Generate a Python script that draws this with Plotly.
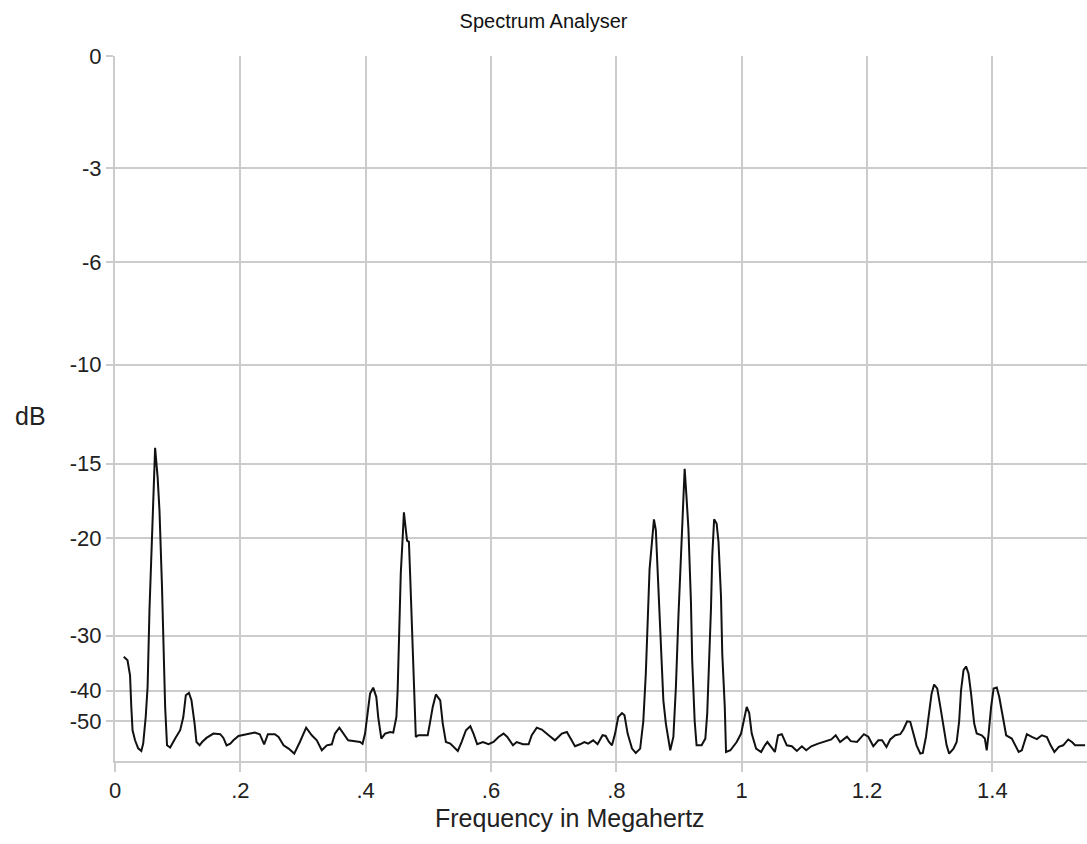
import numpy as np
import plotly.graph_objects as go

# Frequency (MHz) and level (dB)
freq_mhz = [
    0.014, 0.020, 0.021, 0.024, 0.026, 0.028, 0.032, 0.037, 0.042, 0.045,
    0.049, 0.052, 0.055, 0.059, 0.062, 0.064, 0.068, 0.071, 0.075, 0.078,
    0.080, 0.083, 0.088, 0.096, 0.104, 0.109, 0.113, 0.118, 0.122, 0.127,
    0.130, 0.135, 0.139, 0.146, 0.157, 0.168, 0.173, 0.178, 0.184, 0.189,
    0.197, 0.210, 0.223, 0.231, 0.238, 0.244, 0.255, 0.261, 0.269, 0.277,
    0.286, 0.295, 0.305, 0.314, 0.322, 0.330, 0.338, 0.346, 0.351, 0.358,
    0.364, 0.372, 0.383, 0.391, 0.395, 0.399, 0.403, 0.407, 0.412, 0.417,
    0.420, 0.425, 0.431, 0.439, 0.444, 0.449, 0.451, 0.454, 0.456, 0.459,
    0.461, 0.466, 0.469, 0.471, 0.474, 0.477, 0.480, 0.484, 0.499, 0.503,
    0.507, 0.512, 0.519, 0.523, 0.528, 0.535, 0.540, 0.547, 0.553, 0.560,
    0.567, 0.572, 0.578, 0.587, 0.596, 0.604, 0.612, 0.620, 0.626, 0.635,
    0.641, 0.651, 0.660, 0.665, 0.673, 0.681, 0.692, 0.702, 0.713, 0.721,
    0.727, 0.734, 0.742, 0.749, 0.755, 0.763, 0.770, 0.778, 0.783, 0.788,
    0.793, 0.798, 0.803, 0.809, 0.813, 0.818, 0.825, 0.831, 0.838, 0.843,
    0.847, 0.850, 0.853, 0.857, 0.860, 0.863, 0.865, 0.868, 0.871, 0.875,
    0.879, 0.886, 0.891, 0.895, 0.899, 0.903, 0.906, 0.909, 0.912, 0.915,
    0.919, 0.921, 0.925, 0.928, 0.936, 0.942, 0.945, 0.948, 0.951, 0.953,
    0.956, 0.960, 0.963, 0.967, 0.969, 0.973, 0.975, 0.982, 0.992, 0.999,
    1.003, 1.008, 1.012, 1.016, 1.023, 1.031, 1.037, 1.041, 1.047, 1.053,
    1.058, 1.064, 1.072, 1.080, 1.088, 1.096, 1.103, 1.111, 1.122, 1.133,
    1.143, 1.150, 1.157, 1.168, 1.174, 1.184, 1.195, 1.202, 1.210, 1.218,
    1.224, 1.231, 1.237, 1.245, 1.253, 1.258, 1.264, 1.269, 1.274, 1.279,
    1.285, 1.289, 1.294, 1.300, 1.303, 1.307, 1.312, 1.317, 1.322, 1.327,
    1.331, 1.338, 1.343, 1.347, 1.350, 1.354, 1.358, 1.362, 1.366, 1.371,
    1.375, 1.383, 1.388, 1.391, 1.394, 1.398, 1.402, 1.407, 1.411, 1.417,
    1.422, 1.431, 1.436, 1.442, 1.447, 1.455, 1.463, 1.471, 1.479, 1.487,
    1.493, 1.499, 1.506, 1.513, 1.521, 1.527, 1.532, 1.548,
]

level_db = [
    -33.2, -33.8, -34.5, -36.6, -44.6, -54.4, -61.3, -69.8, -73.9, -64.3,
    -48.2, -39.2, -26.8, -20.4, -16.6, -14.1, -15.8, -18.0, -24.3, -32.7,
    -44.6, -66.1, -68.8, -59.9, -54.4, -48.2, -41.2, -40.6, -42.6, -51.0,
    -62.8, -66.1, -62.8, -59.4, -56.4, -56.8, -59.4, -66.1, -64.3, -61.3,
    -58.0, -56.8, -55.8, -56.8, -65.0, -56.8, -56.8, -58.7, -66.1, -70.2,
    -79.2, -62.8, -53.0, -57.5, -61.3, -72.7, -66.1, -65.0, -56.4, -53.0,
    -56.4, -61.3, -62.1, -62.8, -64.5, -56.4, -46.9, -40.8, -39.3, -41.7,
    -48.2, -59.9, -56.4, -55.4, -55.8, -48.2, -40.0, -29.3, -23.0, -20.0,
    -18.1, -20.2, -20.3, -23.2, -29.7, -39.2, -58.7, -57.5, -57.5, -50.0,
    -44.6, -41.0, -42.6, -51.0, -62.8, -64.3, -67.2, -73.9, -62.8, -54.4,
    -52.3, -56.4, -65.0, -62.8, -65.0, -62.8, -58.7, -56.4, -58.7, -66.1,
    -62.8, -65.0, -65.0, -57.5, -53.0, -54.0, -57.5, -61.3, -56.4, -55.4,
    -59.9, -67.2, -65.0, -62.8, -64.3, -61.3, -65.0, -57.5, -58.0, -62.5,
    -66.1, -56.4, -48.2, -46.7, -47.5, -56.4, -70.2, -77.8, -70.2, -50.0,
    -36.3, -28.0, -22.6, -20.2, -18.6, -19.4, -21.5, -25.3, -32.2, -42.6,
    -51.0, -72.7, -58.7, -39.2, -27.6, -21.0, -17.5, -15.3, -17.1, -19.3,
    -25.8, -33.8, -50.0, -66.1, -66.1, -59.9, -46.9, -34.4, -26.6, -21.5,
    -18.6, -18.9, -20.3, -25.3, -32.7, -44.6, -75.7, -72.7, -62.8, -56.4,
    -50.0, -44.6, -46.7, -56.4, -70.2, -75.7, -66.1, -62.8, -68.0, -75.7,
    -57.5, -56.8, -66.1, -67.2, -73.9, -67.2, -72.7, -67.2, -64.3, -61.9,
    -60.6, -57.5, -62.8, -58.5, -62.0, -62.8, -56.8, -58.5, -67.2, -61.3,
    -61.3, -68.0, -60.6, -57.5, -56.8, -54.0, -50.0, -50.2, -56.4, -66.1,
    -79.2, -77.8, -58.7, -44.6, -40.8, -38.6, -39.5, -44.6, -52.7, -66.1,
    -79.2, -70.2, -62.8, -50.0, -40.0, -35.6, -34.9, -36.3, -40.8, -51.0,
    -56.4, -57.5, -59.9, -72.7, -56.4, -44.6, -39.5, -39.3, -41.7, -48.2,
    -57.5, -59.9, -65.0, -75.7, -72.7, -56.8, -58.7, -60.3, -57.5, -58.7,
    -66.1, -75.7, -68.0, -66.1, -60.6, -62.8, -66.1, -66.1,
]

y_tick_db = [0, -3, -6, -10, -15, -20, -30, -40, -50]
y_tick_text = ["0", "-3", "-6", "-10", "-15", "-20", "-30", "-40", "-50"]
x_tick_vals = [0, 0.2, 0.4, 0.6, 0.8, 1.0, 1.2, 1.4]
x_tick_text = ["0", ".2", ".4", ".6", ".8", "1", "1.2", "1.4"]


# The analyser's vertical scale is linear in 10^(dB/40)
def db_scale(db):
    return np.power(10.0, np.asarray(db, dtype=float) / 40.0)


FONT = "Liberation Sans, Arial, Helvetica, sans-serif"
GRID = "#cccccc"
W, H = 1087, 844
L, R, T, B = 115, 0, 56, 83
PW, PH = W - L - R, H - T - B

fig = go.Figure()
fig.add_trace(go.Scatter(
    x=freq_mhz,
    y=db_scale(level_db),
    mode="lines",
    line=dict(color="#111111", width=2),
    showlegend=False,
    hoverinfo="skip",
))

fig.update_layout(
    width=W,
    height=H,
    margin=dict(l=L, r=R, t=T, b=B),
    paper_bgcolor="white",
    plot_bgcolor="white",
    font=dict(family=FONT, color="#222222"),
    title=dict(
        text="Spectrum Analyser",
        x=0.5, xref="container", xanchor="center",
        y=1 - 21 / H, yref="container", yanchor="middle",
        font=dict(family=FONT, size=20, color="#111111"),
    ),
    xaxis=dict(
        range=[0, 1.551],
        tickmode="array",
        tickvals=x_tick_vals,
        ticktext=x_tick_text,
        showgrid=True, gridcolor=GRID, gridwidth=2,
        showline=True, linecolor=GRID, linewidth=2,
        ticks="outside", ticklen=9, tickwidth=2, tickcolor=GRID,
        tickfont=dict(family=FONT, size=22, color="#222222"),
        zeroline=False,
    ),
    yaxis=dict(
        range=[0, 1],
        tickmode="array",
        tickvals=db_scale(y_tick_db),
        ticktext=y_tick_text,
        showgrid=True, gridcolor=GRID, gridwidth=2,
        showline=True, linecolor=GRID, linewidth=2,
        ticks="outside", ticklen=7, tickwidth=2, tickcolor=GRID,
        tickfont=dict(family=FONT, size=22, color="#222222"),
        zeroline=False,
    ),
    annotations=[
        dict(text="dB", xref="paper", yref="paper",
             x=(30 - L) / PW, y=(H - B - 416) / PH,
             xanchor="center", yanchor="middle", showarrow=False,
             font=dict(family=FONT, size=25, color="#222222")),
        dict(text="Frequency in Megahertz", xref="paper", yref="paper",
             x=(570 - L) / PW, y=(H - B - 818) / PH,
             xanchor="center", yanchor="middle", showarrow=False,
             font=dict(family=FONT, size=25, color="#222222")),
    ],
)

fig.write_html(
    "out.html",
    config={"displayModeBar": False, "staticPlot": True},
    post_script=(
        "document.documentElement.style.margin='0';"
        "document.body.style.margin='0';"
        "document.body.style.overflow='hidden';"
    ),
)
